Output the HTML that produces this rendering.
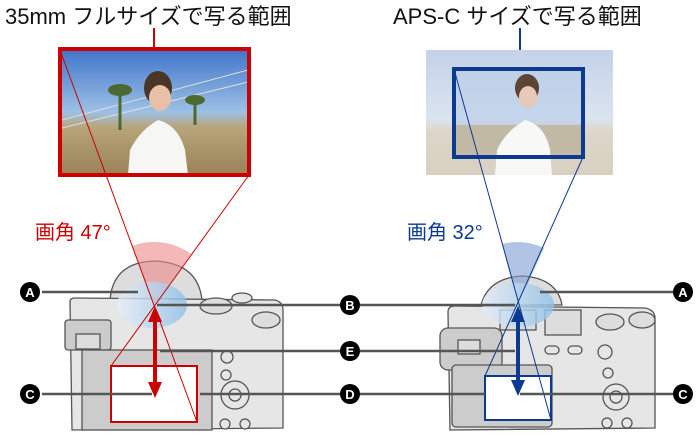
<!DOCTYPE html>
<html><head><meta charset="utf-8"><style>
body{margin:0;background:#fff;width:700px;height:440px;overflow:hidden}
</style></head><body>
<svg width="700" height="440" viewBox="0 0 700 440" xmlns="http://www.w3.org/2000/svg" font-family="Liberation Sans, Noto Sans CJK JP, sans-serif">
<defs>
<linearGradient id="sky" x1="0" y1="0" x2="0" y2="1">
<stop offset="0" stop-color="#3f74c8"/><stop offset="0.5" stop-color="#9cc0e6"/><stop offset="0.62" stop-color="#b8a57a"/><stop offset="1" stop-color="#9a8258"/></linearGradient>
<linearGradient id="sky2" x1="0" y1="0" x2="0" y2="1">
<stop offset="0" stop-color="#c3d2ea"/><stop offset="0.55" stop-color="#dbe4f0"/><stop offset="0.65" stop-color="#ddd6c8"/><stop offset="1" stop-color="#d8d0c0"/></linearGradient>
<linearGradient id="lensb" x1="0" y1="0" x2="1" y2="0"><stop offset="0" stop-color="#e6eef8"/><stop offset="1" stop-color="#8fbfe6"/></linearGradient>
</defs>
<text x="5" y="24" font-size="22" fill="#111">35mm フルサイズで写る範囲</text>
<text x="393" y="24" font-size="22" fill="#111">APS-C サイズで写る範囲</text>
<line x1="154" y1="28" x2="154" y2="48" stroke="#c00" stroke-width="2"/>
<line x1="520" y1="28" x2="520" y2="68" stroke="#0b3a8f" stroke-width="2"/>
<!-- left photo -->
<rect x="60" y="49" width="189" height="126" fill="url(#sky)"/>
<g stroke="#ddd" stroke-width="1"><line x1="62" y1="120" x2="248" y2="70"/><line x1="62" y1="128" x2="248" y2="82"/></g>
<g stroke="#4c6a30" stroke-width="3"><line x1="120" y1="90" x2="120" y2="130"/><line x1="195" y1="100" x2="195" y2="125"/></g>
<g fill="#4c6a30"><ellipse cx="120" cy="90" rx="12" ry="6"/><ellipse cx="195" cy="100" rx="10" ry="5"/></g>
<ellipse cx="158" cy="88" rx="14" ry="17" fill="#4a3526"/><ellipse cx="160" cy="98" rx="11" ry="13" fill="#e8c0a8"/>
<path d="M128 175 L130 150 Q140 130 158 120 Q178 125 185 150 L188 175Z" fill="#f6f6f4"/>
<rect x="60" y="49" width="189" height="126" fill="none" stroke="#c00" stroke-width="4"/>
<!-- right photo -->
<rect x="426" y="50" width="187" height="125" fill="url(#sky2)"/>
<rect x="454" y="69" width="129" height="88" fill="#b8cce8" opacity="0.6"/>
<rect x="454" y="125" width="129" height="32" fill="#c0aa80" opacity="0.6"/>
<ellipse cx="527" cy="88" rx="12" ry="14" fill="#5a4536"/><ellipse cx="528" cy="97" rx="9" ry="11" fill="#e8c8b8"/>
<path d="M495 175 L497 150 Q505 132 525 120 Q545 125 550 150 L552 175Z" fill="#f8f8f6"/>
<rect x="454" y="69" width="129" height="88" fill="none" stroke="#0b3a8f" stroke-width="4"/>
<!-- left camera -->
<g stroke="#555" stroke-width="1.3" fill="#e6e6e6">
<path d="M110 300 Q113 262 155 261 Q198 263 202 300Z" fill="#ddd"/>
<path d="M70 302 Q70 298 75 298 L275 300 Q283 302 283 310 L283 428 L72 430Z"/>
<rect x="65" y="320" width="46" height="30" rx="3" fill="#ccc"/>
<rect x="76" y="334" width="24" height="15" fill="#ddd"/>
<rect x="82" y="350" width="130" height="80" fill="#ccc"/>
<ellipse cx="216" cy="306" rx="16" ry="8" fill="#ddd"/><ellipse cx="242" cy="298" rx="10" ry="5"/>
<ellipse cx="266" cy="320" rx="14" ry="8" fill="#ddd"/>
<circle cx="227" cy="357" r="6"/><circle cx="226" cy="375" r="5"/><circle cx="235" cy="395" r="14"/><circle cx="235" cy="395" r="6"/>
<circle cx="225" cy="424" r="5"/><circle cx="245" cy="424" r="5"/>
</g>
<path d="M154 305 L132 246 A63 63 0 0 1 191 254Z" fill="#e88" opacity="0.6"/>
<ellipse cx="152" cy="305" rx="35" ry="23" fill="url(#lensb)" opacity="0.8"/>
<rect x="111" y="366" width="86" height="56" fill="#fff" stroke="#c00" stroke-width="2"/>
<line x1="60" y1="50" x2="197" y2="422" stroke="#c00" stroke-width="1"/>
<line x1="249" y1="175" x2="111" y2="366" stroke="#c00" stroke-width="1"/>
<line x1="155" y1="315" x2="155" y2="385" stroke="#c00" stroke-width="4"/>
<path d="M148 322 L155 306 L162 322Z M148 382 L155 398 L162 382Z" fill="#c00"/>
<text x="35" y="239" font-size="20" fill="#c00">画角 47°</text>
<!-- right camera -->
<g stroke="#555" stroke-width="1.3" fill="#e6e6e6">
<path d="M481 305 Q488 278 522 276 Q557 278 562 305Z" fill="#ddd"/>
<path d="M448 312 Q448 306 455 306 L645 308 Q655 310 655 318 L655 428 L450 430Z"/>
<rect x="500" y="310" width="36" height="20" fill="#ddd"/><rect x="545" y="310" width="36" height="25" fill="#ddd"/>
<rect x="440" y="328" width="62" height="42" rx="8" fill="#ccc"/>
<rect x="458" y="340" width="22" height="14" fill="#ddd"/>
<rect x="452" y="365" width="100" height="62" rx="4" fill="#ccc"/>
<ellipse cx="610" cy="322" rx="14" ry="8" fill="#ddd"/><ellipse cx="642" cy="320" rx="13" ry="8" fill="#ddd"/>
<rect x="545" y="346" width="14" height="8" rx="4"/><rect x="568" y="346" width="14" height="8" rx="4"/>
<circle cx="605" cy="352" r="7"/><circle cx="608" cy="373" r="5"/><circle cx="616" cy="397" r="13"/><circle cx="616" cy="397" r="6"/>
<circle cx="607" cy="423" r="5"/><circle cx="627" cy="423" r="5"/>
</g>
<path d="M518 305 L502 244 A63 63 0 0 1 544 248Z" fill="#7f9cd0" opacity="0.6"/>
<ellipse cx="518" cy="305" rx="36" ry="22" fill="url(#lensb)" opacity="0.8"/>
<rect x="485" y="376" width="66" height="44" fill="#fff" stroke="#0b3a8f" stroke-width="2"/>
<line x1="454" y1="69" x2="551" y2="420" stroke="#0b3a8f" stroke-width="1"/>
<line x1="583" y1="157" x2="485" y2="376" stroke="#0b3a8f" stroke-width="1"/>
<line x1="518" y1="315" x2="518" y2="383" stroke="#0b3a8f" stroke-width="4"/>
<path d="M511 322 L518 306 L525 322Z M511 380 L518 396 L525 380Z" fill="#0b3a8f"/>
<text x="407" y="239" font-size="20" fill="#0b3a8f">画角 32°</text>
<g stroke="#555" stroke-width="2.5">
<line x1="42" y1="292" x2="138" y2="292"/>
<line x1="42" y1="394" x2="152" y2="394"/>
<line x1="157" y1="305" x2="340" y2="305"/>
<line x1="160" y1="351" x2="340" y2="351"/>
<line x1="200" y1="394" x2="340" y2="394"/>
<line x1="360" y1="305" x2="515" y2="305"/>
<line x1="360" y1="351" x2="515" y2="351"/>
<line x1="360" y1="394" x2="485" y2="394"/>
<line x1="540" y1="292" x2="673" y2="292"/>
<line x1="520" y1="394" x2="673" y2="394"/>
</g>
<g fill="#000"><circle cx="30" cy="292" r="10"/><circle cx="30" cy="394" r="10"/><circle cx="350" cy="305" r="10"/><circle cx="350" cy="351" r="10"/><circle cx="350" cy="394" r="10"/><circle cx="683" cy="292" r="10"/><circle cx="683" cy="394" r="10"/></g>
<g fill="#fff" font-size="13" font-weight="bold" text-anchor="middle">
<text x="30" y="297">A</text><text x="30" y="399">C</text><text x="350" y="310">B</text><text x="350" y="356">E</text><text x="350" y="399">D</text><text x="683" y="297">A</text><text x="683" y="399">C</text>
</g>
</svg>
</body></html>
